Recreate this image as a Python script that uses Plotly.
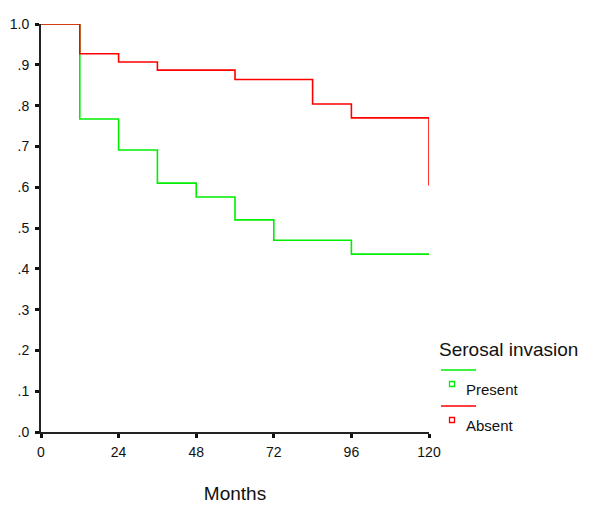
import plotly.graph_objects as go

# Kaplan-Meier step data
months_absent = [0, 12, 24, 36, 60, 84, 96, 120, 120]
surv_absent = [1.0, 0.927, 0.907, 0.887, 0.864, 0.804, 0.770, 0.770, 0.604]

months_present = [0, 12, 24, 36, 48, 60, 72, 96, 120]
surv_present = [1.0, 0.767, 0.691, 0.610, 0.576, 0.520, 0.470, 0.436, 0.436]

x_ticks = [0, 24, 48, 72, 96, 120]
y_ticks = [0.0, 0.1, 0.2, 0.3, 0.4, 0.5, 0.6, 0.7, 0.8, 0.9, 1.0]
y_labels = [".0", ".1", ".2", ".3", ".4", ".5", ".6", ".7", ".8", ".9", "1.0"]

legend_title = "Serosal invasion"
groups = [("Present", "#00ee00"), ("Absent", "#ff0000")]

FONT = "Liberation Sans, Arial, sans-serif"
PAGE_PAD = 8  # body margin of the html page

fig = go.Figure()
fig.add_trace(go.Scatter(x=months_present, y=surv_present, mode="lines",
                         line=dict(color="#00ee00", width=1.6, shape="hv"),
                         cliponaxis=False, showlegend=False))
fig.add_trace(go.Scatter(x=months_absent, y=surv_absent, mode="lines",
                         line=dict(color="#ff0000", width=1.6, shape="hv"),
                         cliponaxis=False, showlegend=False))

# ── custom legend on the right ─────────────────────────────────────────
def px_x(p):
    return (p - 41) / 388

def px_y(p):
    return (432 - p) / 408

fig.add_annotation(x=px_x(437), y=px_y(349), xref="paper", yref="paper",
                   text=legend_title, showarrow=False, xanchor="left", yanchor="middle",
                   font=dict(size=19, color="#111", family=FONT))
for i, (name, col) in enumerate(groups):
    off = i * 36
    fig.add_shape(type="line", xref="paper", yref="paper",
                  x0=px_x(441), x1=px_x(476), y0=px_y(370 + off), y1=px_y(370 + off),
                  line=dict(color=col, width=1.5))
    fig.add_shape(type="rect", xref="paper", yref="paper",
                  x0=px_x(449.5), x1=px_x(454.5), y0=px_y(381.5 + off), y1=px_y(386.5 + off),
                  line=dict(color=col, width=1.3), fillcolor="white")
    fig.add_annotation(x=px_x(464), y=px_y(389 + off), xref="paper", yref="paper",
                       text=name, showarrow=False, xanchor="left", yanchor="middle",
                       font=dict(size=15, color="#111", family=FONT))

fig.update_layout(
    width=600, height=527,
    margin=dict(l=41 - PAGE_PAD, r=171 + PAGE_PAD, t=24 - PAGE_PAD, b=95 + PAGE_PAD),
    plot_bgcolor="white", paper_bgcolor="white",
    font=dict(family=FONT, size=14, color="#111"),
    showlegend=False,
)
fig.update_xaxes(range=[0, 120], tickvals=x_ticks, ticktext=[str(v) for v in x_ticks],
                 showgrid=False, zeroline=False, showline=True, linecolor="#222", linewidth=2,
                 ticks="outside", ticklen=4, tickwidth=3, tickcolor="#111",
                 tickfont=dict(size=14, family=FONT), automargin=False, ticklabelstandoff=2,
                 title=dict(text="Months", font=dict(size=19, family=FONT), standoff=28))
fig.update_yaxes(range=[0, 1], tickvals=y_ticks, ticktext=y_labels,
                 showgrid=False, zeroline=False, showline=True, linecolor="#222", linewidth=2,
                 ticks="outside", ticklen=4, tickwidth=3, tickcolor="#111",
                 tickfont=dict(size=14, family=FONT), automargin=False, ticklabelstandoff=3)

fig.write_html("out.html")
